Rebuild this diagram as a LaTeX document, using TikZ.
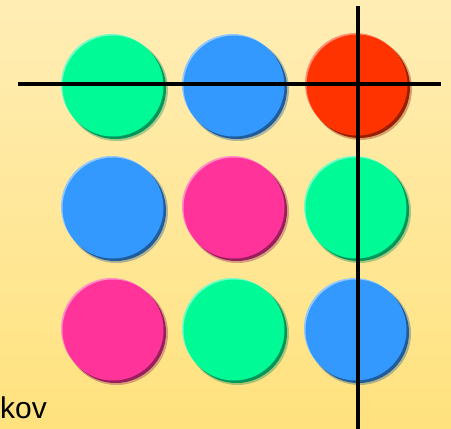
\documentclass[tikz,border=0pt]{standalone}
\usepackage{fontspec}
\setmainfont{Liberation Sans}
\begin{document}
\begin{tikzpicture}[x=1pt,y=-1pt,
  bead/.style={circle,minimum size=101pt,inner sep=0pt,draw=none},
  cross/.style={line width=3.8pt,black}]
\definecolor{bgtop}{HTML}{FFEDB5}
\definecolor{bgbot}{HTML}{FFE27E}
\definecolor{cgreen}{HTML}{00FA96}
\definecolor{cblue}{HTML}{3399FF}
\definecolor{cred}{HTML}{FF3300}
\definecolor{cpink}{HTML}{FF3399}
\useasboundingbox (0,0) rectangle (451,429);
\shade[top color=bgtop,bottom color=bgbot] (0,0) rectangle (451,429);
\foreach \nm/\cx/\cy/\col in {a/113/86/cgreen,b/234/86/cblue,c/357/85/cred,
  d/113/208/cblue,e/234/208/cpink,f/356/208/cgreen,
  g/113/330/cpink,h/234/330/cgreen,i/356/330/cblue}{
  \fill[\col!55!black,opacity=0.35] (\cx+3.5,\cy+3.5) circle (51.5pt);
  \fill[\col!60!black] (\cx+2.5,\cy+2.5) circle (50.5pt);
  \fill[\col!55!white] (\cx-1.5,\cy-1.5) circle (50.5pt);
  \node[bead,fill=\col] (\nm) at (\cx,\cy) {};
}
\coordinate (hl) at (18,84);
\coordinate (hr) at (441,84);
\coordinate (vt) at (358,6);
\coordinate (vb) at (358,429);
\draw[cross] (hl) -- (hr);
\draw[cross] (vt) -- (vb);
\node[anchor=base west,inner sep=0pt,font=\fontsize{30}{30}\selectfont] (txt) at (0,418) {kov};
\end{tikzpicture}
\end{document}
